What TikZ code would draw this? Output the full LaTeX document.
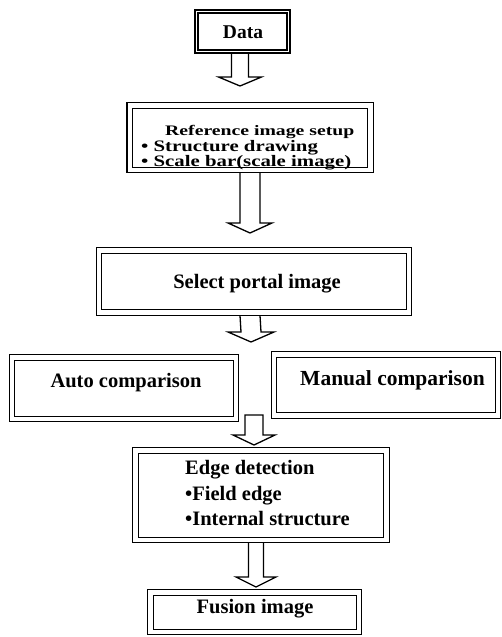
\documentclass[tikz,border=0pt]{standalone}
\usepackage{fontspec}
\setmainfont{Liberation Serif}
\newfontfamily\widetitle[FakeStretch=1.36]{Liberation Serif}
\newfontfamily\wideserif[FakeStretch=1.3]{Liberation Serif}
\usetikzlibrary{calc}
\newcommand\blkarrow[6]{% #1 top coord, #2 tip coord, #3 stem half width, #4 head half width, #5 head length, #6 top offset
  \draw[arr] ($(#1)+(-#3,#6)$) -- ($(#2)+(-#3,-#5)$) -- ($(#2)+(-#4,-#5)$) -- (#2)
    -- ($(#2)+(#4,-#5)$) -- ($(#2)+(#3,-#5)$) -- ($(#1)+(#3,#6)$);}
\begin{document}
\begin{tikzpicture}[x=1pt,y=-1pt,
  dbox/.style={draw=black, double=white, double distance=4.5pt, line width=1.1pt, inner sep=0pt, outer sep=0pt},
  lab/.style={inner sep=0pt, font=\bfseries\fontsize{20.5}{22}\selectfont},
  sublab/.style={inner sep=0pt, font=\wideserif\bfseries\fontsize{16}{18}\selectfont},
  arr/.style={draw=black, line width=1.3pt, line join=miter}]
\useasboundingbox (0,0) rectangle (501,637);
% boxes
\node[dbox, double distance=1.4pt, line width=1.4pt, minimum width=92pt, minimum height=40pt] (data) at (242.5,31.5) {};
\node[dbox, minimum width=240.5pt, minimum height=64.5pt] (ref) at (250,137.75) {};
\node[dbox, minimum width=310pt, minimum height=62pt] (sel) at (254,281.5) {};
\node[dbox, minimum width=224pt, minimum height=61.5pt] (auto) at (124,388.25) {};
\node[dbox, minimum width=224pt, minimum height=61pt] (manual) at (386,385) {};
\node[dbox, minimum width=251pt, minimum height=89.5pt] (edge) at (261,495.25) {};
\node[dbox, minimum width=208.5pt, minimum height=39.5pt] (fusion) at (254.75,612.25) {};
% texts
\node[lab, font=\bfseries\fontsize{19.5}{22}\selectfont, anchor=base] (tdata) at (243,38) {Data};
\node[sublab, font=\widetitle\bfseries\fontsize{14.5}{16}\selectfont, anchor=base west] (tref) at (165,135) {Reference image setup};
\node[sublab, anchor=base west] (tref1) at (141,151) {• Structure drawing};
\node[sublab, anchor=base west] (tref2) at (141,166) {• Scale bar(scale image)};
\node[lab, anchor=base] (tsel) at (257,288) {Select portal image};
\node[lab, anchor=base] (tauto) at (126,387) {Auto comparison};
\node[lab, font=\bfseries\fontsize{21.5}{22}\selectfont, anchor=base] (tman) at (392.5,385) {Manual comparison};
\node[lab, anchor=base west] (tedge) at (185,474) {Edge detection};
\node[lab, anchor=base west] (tedge1) at (185,500) {•Field edge};
\node[lab, anchor=base west] (tedge2) at (185,525) {•Internal structure};
\node[lab, anchor=base] (tfus) at (255,613) {Fusion image};
% arrow anchors
\coordinate (a1t) at (240,0 |- data.south);
\coordinate (a1h) at (240,86);
\coordinate (a2t) at (250,0 |- ref.south);
\coordinate (a2h) at (250,233);
\coordinate (a3t) at (250,0 |- sel.south);
\coordinate (a3h) at (251,342);
\coordinate (a4t) at (254,415);
\coordinate (a4h) at (254,445);
\coordinate (a5t) at (256,0 |- edge.south);
\coordinate (a5h) at (256,587);
% arrows
\blkarrow{a1t}{a1h}{8.5}{21.5}{9}{2}
\blkarrow{a2t}{a2h}{10}{22}{10}{3}
\blkarrow{a3t}{a3h}{10}{23}{10}{3}
\draw[arr] ($(a4t)+(-9,0)$) -- ($(a4h)+(-9,-10)$) -- ($(a4h)+(-21,-10)$) -- (a4h)
    -- ($(a4h)+(21,-10)$) -- ($(a4h)+(9,-10)$) -- ($(a4t)+(9,0)$) -- cycle;
\blkarrow{a5t}{a5h}{7.5}{20}{10}{3}
\end{tikzpicture}
\end{document}
